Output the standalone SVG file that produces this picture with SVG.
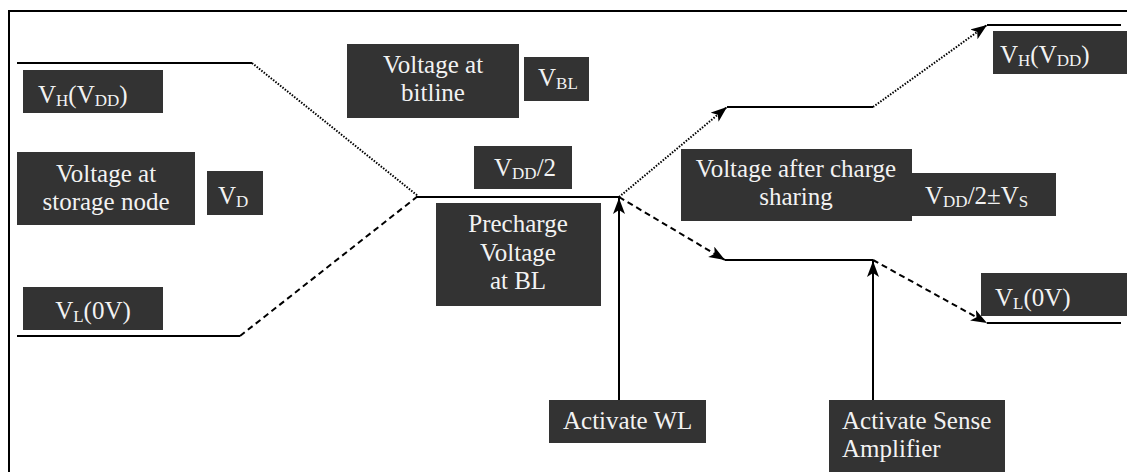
<svg xmlns="http://www.w3.org/2000/svg" width="1127" height="472" viewBox="0 0 1127 472">
<style>
.box{fill:#333333}
.t{font-family:"Liberation Serif","Times New Roman",serif;font-size:25px;fill:#f2f2f2}
.c{text-anchor:middle}
.s{font-size:17px}
.solid{fill:none;stroke:#000;stroke-width:2}
.dot{fill:none;stroke:#000;stroke-width:2;stroke-dasharray:1.5 1.5}
.dash{fill:none;stroke:#000;stroke-width:2;stroke-dasharray:6 4}
</style>
<defs>
<marker id="ah" markerUnits="userSpaceOnUse" markerWidth="18" markerHeight="14" refX="16" refY="6" orient="auto">
<path d="M0,0 L16,6 L0,12 L4,6 z" fill="#000"/>
</marker>
</defs>
<rect width="1127" height="472" fill="#fff"/>
<g id="connectors">
<path class="solid" d="M9,472 V11 H1127"/>
<path class="solid" d="M17,63 H252"/>
<path class="dot" d="M252,63 L418,196"/>
<path class="solid" d="M17,336 H240"/>
<path class="dash" d="M240,336 L418,196"/>
<path class="solid" d="M416,197 H619"/>
<path class="dot" d="M619,197 L727,107" marker-end="url(#ah)"/>
<path class="solid" d="M727,107 H873"/>
<path class="dot" d="M873,107 L987,25" marker-end="url(#ah)"/>
<path class="solid" d="M987,25 H1121"/>
<path class="dash" d="M619,197 L725,260" marker-end="url(#ah)"/>
<path class="solid" d="M725,260 H873"/>
<path class="dash" d="M873,260 L987,323" marker-end="url(#ah)"/>
<path class="solid" d="M987,323 H1121"/>
<path class="solid" d="M619,400 V198" marker-end="url(#ah)"/>
<path class="solid" d="M873,400 V261" marker-end="url(#ah)"/>
</g>
<g id="vh-left"><rect class="box" x="23" y="70" width="140" height="43"/><text class="t" x="38" y="103">V<tspan class="s" dy="3">H</tspan><tspan dy="-3">(V</tspan><tspan class="s" dy="3">DD</tspan><tspan dy="-3">)</tspan></text></g>
<g id="storage"><rect class="box" x="17" y="152" width="178" height="73"/><text class="t c" x="106" y="182">Voltage at</text><text class="t c" x="106" y="210">storage node</text></g>
<g id="vd"><rect class="box" x="207" y="171" width="56" height="44"/><text class="t" x="218" y="204">V<tspan class="s" dy="3">D</tspan></text></g>
<g id="vl-left"><rect class="box" x="23" y="287" width="140" height="43"/><text class="t c" x="93" y="319">V<tspan class="s" dy="3">L</tspan><tspan dy="-3">(0V)</tspan></text></g>
<g id="bitline"><rect class="box" x="347" y="44" width="172" height="74"/><text class="t c" x="433" y="73">Voltage at</text><text class="t c" x="433" y="101">bitline</text></g>
<g id="vbl"><rect class="box" x="524" y="57" width="65" height="44"/><text class="t" x="538" y="86">V<tspan class="s" dy="3">BL</tspan></text></g>
<g id="vdd2"><rect class="box" x="474" y="146" width="98" height="43"/><text class="t" x="494" y="176">V<tspan class="s" dy="3">DD</tspan><tspan dy="-3">/2</tspan></text></g>
<g id="precharge"><rect class="box" x="436" y="203" width="165" height="103"/><text class="t c" x="518" y="232">Precharge</text><text class="t c" x="518" y="261">Voltage</text><text class="t c" x="518" y="289">at BL</text></g>
<g id="wl"><rect class="box" x="549" y="400" width="157" height="43"/><text class="t" x="563" y="429">Activate WL</text></g>
<g id="vh-right"><rect class="box" x="993" y="31" width="134" height="43"/><text class="t" x="1000" y="63">V<tspan class="s" dy="3">H</tspan><tspan dy="-3">(V</tspan><tspan class="s" dy="3">DD</tspan><tspan dy="-3">)</tspan></text></g>
<g id="charge-sharing"><rect class="box" x="681" y="149" width="231" height="72"/><text class="t c" x="796" y="177">Voltage after charge</text><text class="t c" x="796" y="205">sharing</text></g>
<g id="vdd2vs"><rect class="box" x="912" y="173" width="144" height="43"/><text class="t" x="925" y="204">V<tspan class="s" dy="3">DD</tspan><tspan dy="-3">/2±V</tspan><tspan class="s" dy="3">S</tspan></text></g>
<g id="vl-right"><rect class="box" x="981" y="273" width="146" height="43"/><text class="t" x="995" y="306">V<tspan class="s" dy="3">L</tspan><tspan dy="-3">(0V)</tspan></text></g>
<g id="sense"><rect class="box" x="829" y="400" width="176" height="80"/><text class="t" x="842" y="429">Activate Sense</text><text class="t" x="842" y="457">Amplifier</text></g>
</svg>
